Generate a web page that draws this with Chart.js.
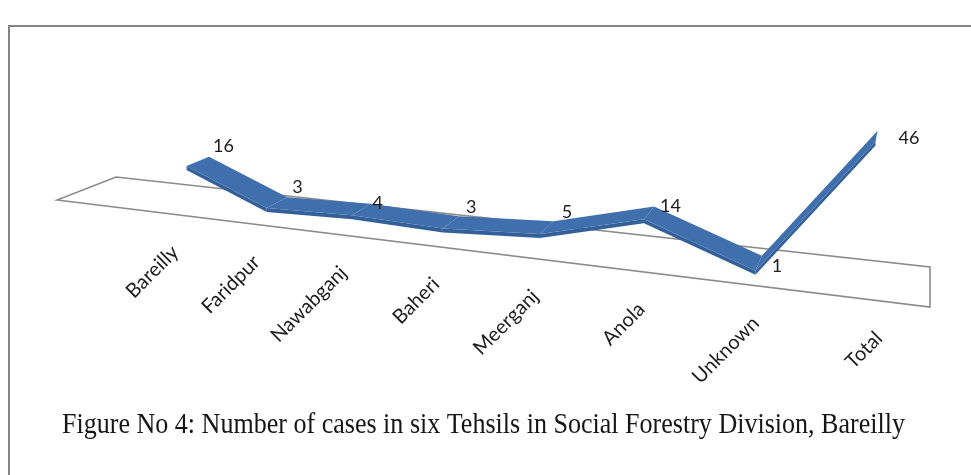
<!DOCTYPE html>
<html>
<head>
<meta charset="utf-8">
<script src="https://cdn.jsdelivr.net/npm/chart.js@4.4.1/dist/chart.umd.min.js"></script>
<style>
  html, body { margin: 0; padding: 0; background: #ffffff; }
  canvas { display: block; }
</style>
</head>
<body>
<canvas id="chart" width="971" height="475"></canvas>
<script>
// ---- data ----
const tehsils = ['Bareilly', 'Faridpur', 'Nawabganj', 'Baheri', 'Meerganj', 'Anola', 'Unknown', 'Total'];
const cases = [16, 3, 4, 3, 5, 14, 1, 46];
const captionText = 'Figure No 4: Number of cases in six Tehsils in Social Forestry Division, Bareilly';

// ---- 3D view setup ----
// Screen corners of the floor plane: front-left, front-right, back-right, back-left
const FLOOR = [[57, 200], [930, 307], [930, 267], [116, 177]];
const RIBBON_FRONT = 0.29, RIBBON_BACK = 0.71;   // ribbon depth band on the floor
const RIBBON_THICKNESS = 4;                        // visible edge of the ribbon, px
const PX_PER_CASE = 2.46;                          // vertical pixels per case at unit depth

// perspective map from the unit square (u along categories, v into depth) to the screen
function makeHomography(q) {
  const [A, B, C, D] = q;
  const dx1 = B[0] - C[0], dx2 = D[0] - C[0], dx3 = A[0] - B[0] + C[0] - D[0];
  const dy1 = B[1] - C[1], dy2 = D[1] - C[1], dy3 = A[1] - B[1] + C[1] - D[1];
  const den = dx1 * dy2 - dx2 * dy1;
  const g = (dx3 * dy2 - dx2 * dy3) / den;
  const h = (dx1 * dy3 - dx3 * dy1) / den;
  return {
    a: B[0] - A[0] + g * B[0], b: D[0] - A[0] + h * D[0], c: A[0],
    d: B[1] - A[1] + g * B[1], e: D[1] - A[1] + h * D[1], f: A[1],
    g, h
  };
}
const H = makeHomography(FLOOR);
function project(u, v, lift) {
  const w = H.g * u + H.h * v + 1;
  return {
    x: (H.a * u + H.b * v + H.c) / w,
    y: (H.d * u + H.e * v + H.f) / w - (lift || 0) / w
  };
}

function quad(ctx, p, fill) {
  ctx.beginPath();
  ctx.moveTo(p[0].x, p[0].y);
  for (let i = 1; i < p.length; i++) ctx.lineTo(p[i].x, p[i].y);
  ctx.closePath();
  ctx.fillStyle = fill;
  ctx.fill();
}
function signedArea(p) {
  let s = 0;
  for (let i = 0; i < p.length; i++) {
    const a = p[i], b = p[(i + 1) % p.length];
    s += a.x * b.y - b.x * a.y;
  }
  return s / 2;
}
function shift(p, dx, dy) { return { x: p.x + dx, y: p.y + dy }; }

// frame, floor and caption
const backdrop = {
  id: 'backdrop',
  beforeDatasetsDraw(chart) {
    const ctx = chart.ctx;
    ctx.save();
    // outer frame
    ctx.strokeStyle = '#858585';
    ctx.lineWidth = 2;
    ctx.beginPath();
    ctx.moveTo(9, 480);
    ctx.lineTo(9, 26);
    ctx.lineTo(980, 26);
    ctx.stroke();
    // floor outline
    const c = [project(0, 0), project(1, 0), project(1, 1), project(0, 1)];
    ctx.strokeStyle = '#8a8a8a';
    ctx.lineWidth = 1.6;
    ctx.beginPath();
    ctx.moveTo(c[0].x, c[0].y);
    for (let i = 1; i < 4; i++) ctx.lineTo(c[i].x, c[i].y);
    ctx.closePath();
    ctx.stroke();
    ctx.restore();
  },
  afterDraw(chart) {
    const ctx = chart.ctx;
    ctx.save();
    ctx.font = '29px "Liberation Serif"';
    ctx.fillStyle = '#161616';
    ctx.textBaseline = 'alphabetic';
    const wText = ctx.measureText(captionText).width;
    const target = 843;
    ctx.translate(62, 433);
    ctx.scale(target / wText, 1);
    ctx.fillText(captionText, 0, 0);
    ctx.restore();
  }
};

// 3D ribbon, value labels and category labels, all placed from the chart scales
const ribbon3d = {
  id: 'ribbon3d',
  afterDatasetsDraw(chart) {
    const ctx = chart.ctx;
    const area = chart.chartArea;
    const ys = chart.scales.y;
    const meta = chart.getDatasetMeta(0);
    const base = ys.getPixelForValue(0);
    const pts = meta.data.map(el => ({
      u: (el.x - area.left) / area.width,
      lift: (base - el.y) / area.height * (ys.max - ys.min) * PX_PER_CASE
    }));
    const F = pts.map(p => project(p.u, RIBBON_FRONT, p.lift));
    const B = pts.map(p => project(p.u, RIBBON_BACK, p.lift));

    ctx.save();
    const t = RIBBON_THICKNESS;
    for (let i = 0; i < pts.length - 1; i++) {
      const top = [F[i], F[i + 1], B[i + 1], B[i]];
      const under = signedArea(top) > 0;
      if (under) {
        // steep rise: the underside and the lit front edge face the viewer
        const edge = [F[i], F[i + 1], shift(F[i + 1], 3, 2), shift(F[i], 3, 2)];
        const face = [shift(F[i], -2, 0), shift(F[i + 1], -2, 0), shift(B[i + 1], -4, 0), shift(B[i], -4, 0)];
        quad(ctx, edge, '#5a8fd2');
        quad(ctx, face, '#1f3c63');
        quad(ctx, top, '#1f3c63');
      } else {
        const side = [F[i], F[i + 1], shift(F[i + 1], 0, t), shift(F[i], 0, t)];
        quad(ctx, side, '#34609a');
        quad(ctx, top, '#3f6fad');
      }
    }
    ctx.restore();

    // value labels
    ctx.save();
    ctx.font = '18px Lato';
    ctx.fillStyle = '#1c1c1c';
    ctx.textAlign = 'left';
    ctx.textBaseline = 'middle';
    const n = pts.length;
    for (let i = 0; i < n; i++) {
      const m = project(pts[i].u, (RIBBON_FRONT + RIBBON_BACK) / 2, pts[i].lift);
      let dx = 15, dy = -15;
      const v = cases[i], prev = cases[i - 1], next = cases[i + 1];
      if (i === n - 1) { dx = 22; dy = 2; }
      else if (next - v > 10) { dx = 13; dy = 3; }
      else if (i > 0 && v > prev && v > next) { dx = 11; dy = -6; }
      ctx.fillText(String(v), m.x + dx, m.y + dy);
    }
    ctx.restore();

    // category labels along the front edge of the floor
    ctx.save();
    ctx.font = '20px Lato';
    ctx.fillStyle = '#1c1c1c';
    ctx.textAlign = 'right';
    ctx.textBaseline = 'middle';
    for (let i = 0; i < n; i++) {
      const p = project(pts[i].u, 0, 0);
      ctx.save();
      ctx.translate(p.x + 5, p.y + 35);
      ctx.rotate(-Math.PI / 4);
      ctx.fillText(tehsils[i], 0, 0);
      ctx.restore();
    }
    ctx.restore();
  }
};

new Chart(document.getElementById('chart'), {
  type: 'line',
  data: {
    datasets: [{
      label: 'Cases',
      data: tehsils.map((t, i) => ({ x: i, y: cases[i] })),
      showLine: false,
      pointRadius: 0,
      pointHoverRadius: 0
    }]
  },
  options: {
    responsive: false,
    animation: false,
    layout: { padding: 0 },
    scales: {
      x: { type: 'linear', min: -1.5, max: 7.43, display: false },
      y: { type: 'linear', min: 0, max: 100, display: false }
    },
    plugins: {
      legend: { display: false },
      tooltip: { enabled: false }
    }
  },
  plugins: [backdrop, ribbon3d]
});
</script>
</body>
</html>
